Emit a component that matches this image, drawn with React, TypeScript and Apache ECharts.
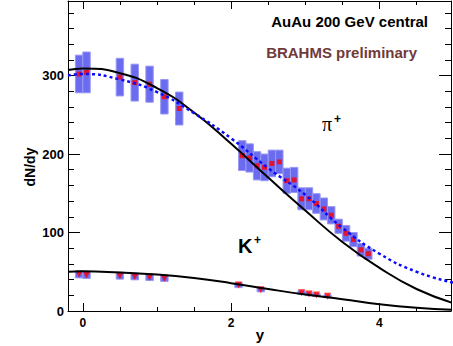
import React, { useEffect, useRef } from "react";
import * as echarts from "echarts";

// ---- data ----
const pionRapidity = [-0.05, 0.05, 0.5, 0.7, 0.9, 1.1, 1.3, 2.15, 2.25, 2.35, 2.45, 2.55, 2.65, 2.75, 2.85, 2.95, 3.05, 3.15, 3.25, 3.35, 3.45, 3.55, 3.65, 3.75, 3.85];
const pionDNdy = [302, 304, 298, 291, 289, 273, 258, 198, 195, 185, 183, 188, 190, 166, 167, 143, 143, 137, 130, 122, 108, 99, 91, 78, 73];
const pionSys = [24, 26, 24, 23.5, 23, 22, 21, 19, 18, 18, 17, 17, 15, 16, 16, 14, 14, 12.5, 14, 11, 9, 10, 9, 8, 7];

const kaonRapidity = [-0.05, 0.05, 0.5, 0.7, 0.9, 1.1, 2.1, 2.4, 2.95, 3.05, 3.15, 3.3];
const kaonDNdy = [46.7, 46, 45, 44, 43, 41.7, 33, 27, 23.4, 21.7, 20.4, 18.7];
const kaonSys = [4.5, 4.5, 4.4, 4.3, 4.2, 4, 3.2, 2.6, 2.3, 2.1, 2, 1.8];

const curveRapidity = [-0.2, 0, 0.5, 1, 1.5, 2, 2.5, 3, 3.5, 4, 4.5, 5];
const pionFitSolid = [307, 309, 303, 284, 253, 213, 170, 128, 88, 55, 28, 10];
const pionFitDotted = [300, 302, 295, 279, 252, 220, 182, 148, 106, 73, 50, 36];
const kaonFitSolid = [50, 50.5, 49, 46.5, 42, 35.5, 28, 21, 15, 8.5, 4, 1.5];

const xMajorTicks = [0, 2, 4];
const xMinorTicks = [0, 0.5, 1, 1.5, 2, 2.5, 3, 3.5, 4, 4.5];
const yMajorTicks = [0, 100, 200, 300];
const yMinorTicks = [0, 20, 40, 60, 80, 100, 120, 140, 160, 180, 200, 220, 240, 260, 280, 300, 320, 340, 360, 380];

const X_MIN = -0.2;
const X_MAX = 4.965;
const Y_MIN = 0;
const Y_MAX = 395;

const FONT = '"Liberation Sans", Arial, sans-serif';
const BOX_HALF = 0.05;

function pairs(xs: number[], ys: number[]) {
  return xs.map((x, i) => [x, ys[i]]);
}

function boxSeries(xs: number[], ys: number[], es: number[]) {
  return {
    type: "custom",
    z: 1,
    data: xs.map((x, i) => [x, ys[i], es[i]]),
    encode: { x: 0, y: 1 },
    clip: true,
    renderItem: (_params: any, api: any) => {
      const x = api.value(0);
      const y = api.value(1);
      const e = api.value(2);
      const p1 = api.coord([x - BOX_HALF, y + e]);
      const p2 = api.coord([x + BOX_HALF, y - e]);
      return {
        type: "rect",
        shape: { x: p1[0], y: p1[1], width: p2[0] - p1[0], height: p2[1] - p1[1] },
        style: { fill: "#6b6bef", stroke: "#9898f5", lineWidth: 1 },
      };
    },
  };
}

function xAxisDef(position: string, major: boolean) {
  return {
    type: "value",
    position,
    min: X_MIN,
    max: X_MAX,
    splitLine: { show: false },
    axisLine: { show: major, onZero: false, lineStyle: { color: "#000", width: 1 } },
    axisTick: {
      show: true,
      inside: true,
      length: major ? 8 : 4,
      customValues: major ? xMajorTicks : xMinorTicks,
      lineStyle: { color: "#000", width: 1 },
    },
    axisLabel:
      major && position === "bottom"
        ? { show: true, customValues: xMajorTicks, margin: 6, color: "#000", fontSize: 12, fontWeight: "bold", fontFamily: FONT }
        : { show: false },
  };
}

function yAxisDef(position: string, major: boolean) {
  return {
    type: "value",
    position,
    min: Y_MIN,
    max: Y_MAX,
    splitLine: { show: false },
    axisLine: { show: major, onZero: false, lineStyle: { color: "#000", width: 1 } },
    axisTick: {
      show: true,
      inside: true,
      length: major ? 12 : 6,
      customValues: major ? yMajorTicks : yMinorTicks,
      lineStyle: { color: "#000", width: 1 },
    },
    axisLabel:
      major && position === "left"
        ? { show: true, customValues: yMajorTicks, margin: 4, color: "#000", fontSize: 13, fontWeight: "bold", fontFamily: FONT }
        : { show: false },
  };
}

export default function App() {
  const ref = useRef<HTMLDivElement>(null);

  useEffect(() => {
    if (!ref.current) return;
    const chart = echarts.init(ref.current, undefined, { renderer: "svg" });
    const option: any = {
      animation: false,
      backgroundColor: "#fff",
      grid: { left: 68, right: 2, top: 1, bottom: 35 },
      xAxis: [
        xAxisDef("bottom", true),
        xAxisDef("bottom", false),
        xAxisDef("top", true),
        xAxisDef("top", false),
      ],
      yAxis: [
        yAxisDef("left", true),
        yAxisDef("left", false),
        yAxisDef("right", true),
        yAxisDef("right", false),
      ],
      series: [
        boxSeries(pionRapidity, pionDNdy, pionSys),
        boxSeries(kaonRapidity, kaonDNdy, kaonSys),
        {
          type: "scatter",
          z: 2,
          data: pairs(pionRapidity, pionDNdy),
          symbol: "rect",
          symbolSize: 5,
          itemStyle: { color: "#ff0000" },
        },
        {
          type: "scatter",
          z: 2,
          data: pairs(kaonRapidity, kaonDNdy),
          symbol: "triangle",
          symbolRotate: 180,
          symbolSize: 7,
          itemStyle: { color: "#ff0000" },
        },
        {
          type: "line",
          z: 3,
          data: pairs(curveRapidity, pionFitSolid),
          smooth: true,
          showSymbol: false,
          lineStyle: { color: "#000", width: 2 },
        },
        {
          type: "line",
          z: 3,
          data: pairs(curveRapidity, pionFitDotted),
          smooth: true,
          showSymbol: false,
          lineStyle: { color: "#0a0aff", width: 2.5, type: [3, 3] },
        },
        {
          type: "line",
          z: 3,
          data: pairs(curveRapidity, kaonFitSolid),
          smooth: true,
          showSymbol: false,
          lineStyle: { color: "#000", width: 2 },
        },
      ],
      graphic: {
        elements: [
          {
            type: "text",
            x: 428,
            y: 21,
            style: { text: "AuAu 200 GeV central", fill: "#000", font: `bold 15px ${FONT}`, textAlign: "right", textVerticalAlign: "middle" },
          },
          {
            type: "text",
            x: 417,
            y: 52,
            style: { text: "BRAHMS preliminary", fill: "#703a3a", font: `bold 15px ${FONT}`, textAlign: "right", textVerticalAlign: "middle" },
          },
          {
            type: "text",
            x: 322,
            y: 124,
            style: { text: "π", fill: "#000", font: '20px "Liberation Serif", serif', textAlign: "left", textVerticalAlign: "middle" },
          },
          {
            type: "text",
            x: 334,
            y: 119,
            style: { text: "+", fill: "#000", font: `bold 12px ${FONT}`, textAlign: "left", textVerticalAlign: "middle" },
          },
          {
            type: "text",
            x: 238,
            y: 246,
            style: { text: "K", fill: "#000", font: `bold 20px ${FONT}`, textAlign: "left", textVerticalAlign: "middle" },
          },
          {
            type: "text",
            x: 254,
            y: 240,
            style: { text: "+", fill: "#000", font: `bold 12px ${FONT}`, textAlign: "left", textVerticalAlign: "middle" },
          },
          {
            type: "text",
            x: 30,
            y: 167,
            rotation: Math.PI / 2,
            style: { text: "dN/dy", fill: "#000", font: `bold 14px ${FONT}`, textAlign: "center", textVerticalAlign: "middle" },
          },
          {
            type: "text",
            x: 260,
            y: 334,
            style: { text: "y", fill: "#000", font: `bold 15px ${FONT}`, textAlign: "center", textVerticalAlign: "middle" },
          },
        ],
      },
    };
    chart.setOption(option);
    return () => chart.dispose();
  }, []);

  return (
    <div
      ref={ref}
      style={{ position: "fixed", left: 0, top: 0, width: 453, height: 346 }}
    />
  );
}
